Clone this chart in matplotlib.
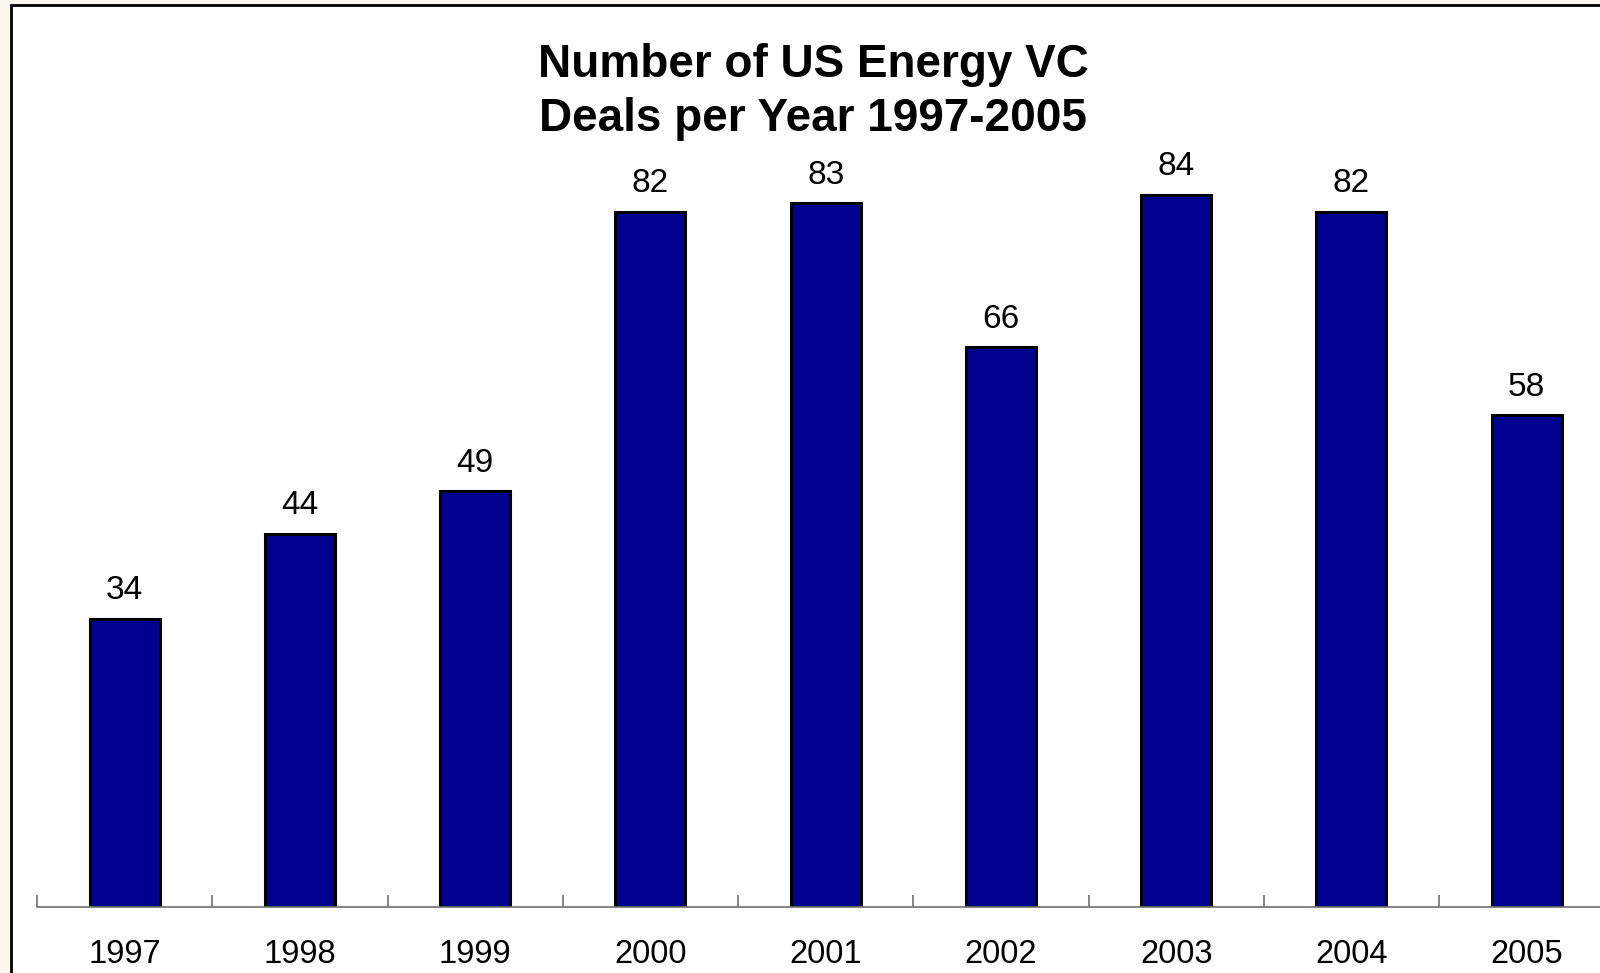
import matplotlib.pyplot as plt
from matplotlib.patches import Rectangle
import numpy as np

### data

years = ['1997', '1998', '1999', '2000', '2001', '2002', '2003', '2004', '2005']
deals = [34, 44, 49, 82, 83, 66, 84, 82, 58]
title = "Number of US Energy VC\nDeals per Year 1997-2005"

### plot

plt.rcParams['font.family'] = ['Liberation Sans', 'DejaVu Sans']

fig = plt.figure(figsize=(16, 9.73), dpi=100)
fig.patch.set_facecolor('#fbf8f0')

# white panel, cut off at the right and bottom
fig.patches.append(Rectangle((11/1600, -0.1), 1.2, 1.1 - 5/973, transform=fig.transFigure,
	facecolor='white', edgecolor='black', linewidth=2, zorder=-1))

ax = fig.add_axes([37/1600, 66/973, 9*175.25/1600, 90*8.48/973])
ax.set_zorder(2)
ax.patch.set_alpha(0)

x = np.arange(len(years))
bars = ax.bar(x, deals, width=0.40, color='#00008f', edgecolor='black', linewidth=2.2)
for xi, v in zip(x, deals):
	ax.annotate(str(v), (xi, v), xytext=(0, 14), textcoords='offset points',
		ha='center', va='baseline', fontsize=24)

ax.set_xlim(-0.5, len(years) - 0.5)
ax.set_ylim(0, 90)
ax.set_xticks(x)
ax.set_xticklabels(years, fontsize=23.5)
ax.set_xticks(np.arange(len(years)) - 0.5, minor=True)
ax.tick_params(axis='x', which='major', length=0, pad=23)
ax.tick_params(axis='x', which='minor', direction='in', length=9, color='#707070', width=1.2)
ax.set_yticks([])
for s in ['top', 'right', 'left']:
	ax.spines[s].set_visible(False)
ax.spines['bottom'].set_color('#707070')
ax.spines['bottom'].set_linewidth(1.2)

fig.text(813/1600, 1 - 92/973, title, ha='center', va='center', fontsize=33,
	fontweight='bold', linespacing=1.32, zorder=3)

fig.savefig('out.png', dpi=100, facecolor=fig.get_facecolor())
